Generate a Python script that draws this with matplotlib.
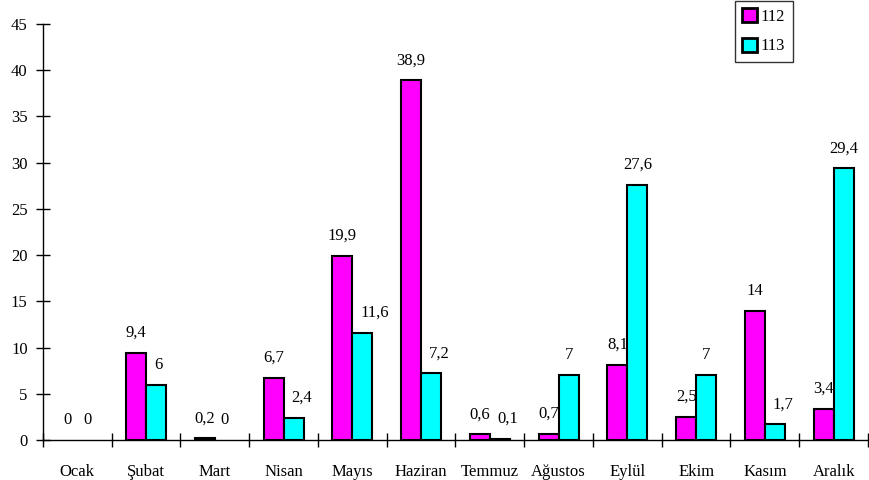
import matplotlib.pyplot as plt
import numpy as np

# Data
months = ["Ocak", "Şubat", "Mart", "Nisan", "Mayıs", "Haziran", "Temmuz",
          "Ağustos", "Eylül", "Ekim", "Kasım", "Aralık"]
values_112 = [0, 9.4, 0.2, 6.7, 19.9, 38.9, 0.6, 0.7, 8.1, 2.5, 14, 3.4]
values_113 = [0, 6, 0, 2.4, 11.6, 7.2, 0.1, 7, 27.6, 7, 1.7, 29.4]
series_names = ["112", "113"]

plt.rcParams['font.family'] = ['Liberation Serif', 'DejaVu Serif']
plt.rcParams['font.size'] = 12


def fmt(v):
    # Turkish decimal comma
    return f"{v:g}".replace(".", ",")


fig = plt.figure(figsize=(8.7, 4.8), dpi=100)
ax = fig.add_axes([43 / 870, 40 / 480, 825 / 870, 416 / 480])

x = np.arange(len(months))
w = 0.29
colors = ["#ff00ff", "#00ffff"]

bars1 = ax.bar(x - w / 2, values_112, w, color=colors[0], edgecolor="black",
               linewidth=1.5, label=series_names[0], zorder=3)
bars2 = ax.bar(x + w / 2, values_113, w, color=colors[1], edgecolor="black",
               linewidth=1.5, label=series_names[1], zorder=3)

# Legend first, before zero bars lose their outline
leg = fig.legend(loc="upper left", bbox_to_anchor=(735 / 870, 1 - 1 / 480),
                 frameon=True, fancybox=False, edgecolor="black",
                 handlelength=0.9, handleheight=0.9, handletextpad=0.2,
                 labelspacing=0.75, borderpad=0.45, borderaxespad=0)
leg.get_frame().set_linewidth(1)
for h, c in zip(leg.legend_handles, colors):
    h.set_facecolor(c)
    h.set_edgecolor("black")
    h.set_linewidth(2)

# Value labels above each bar; zero bars draw no outline
for b, v in zip(bars1, values_112):
    if v == 0:
        b.set_edgecolor("none")
    ax.annotate(fmt(v), (b.get_x() + b.get_width() / 2, v),
                xytext=(0, 14.4), textcoords="offset points",
                ha="center", va="center")

for b, v, v_other in zip(bars2, values_113, values_112):
    if v == 0:
        b.set_edgecolor("none")
    if v_other > v > 0:
        # label pushed right of the taller neighbour bar
        ax.annotate(fmt(v), (b.get_x(), v),
                    xytext=(5.5, 14.4), textcoords="offset points",
                    ha="left", va="center")
    else:
        ax.annotate(fmt(v), (b.get_x() + b.get_width() / 2, v),
                    xytext=(0, 14.4), textcoords="offset points",
                    ha="center", va="center")

ax.set_xlim(-0.5, len(months) - 0.5)
ax.set_ylim(0, 45)
ax.set_yticks(np.arange(0, 46, 5))

# Category labels centered, ticks on boundaries
ax.set_xticks(np.arange(-0.5, len(months), 1.0))
ax.set_xticklabels([])
ax.set_xticks(x, minor=True)
ax.set_xticklabels(months, minor=True)
ax.tick_params(axis="x", which="major", direction="inout", length=10, width=1)
ax.tick_params(axis="x", which="minor", length=0, pad=17)
ax.tick_params(axis="y", direction="inout", length=10, width=1, pad=6)

for s in ("top", "right"):
    ax.spines[s].set_visible(False)
for s in ("left", "bottom"):
    ax.spines[s].set_linewidth(1)
    ax.spines[s].set_zorder(4)

fig.savefig("out.png", dpi=100)
